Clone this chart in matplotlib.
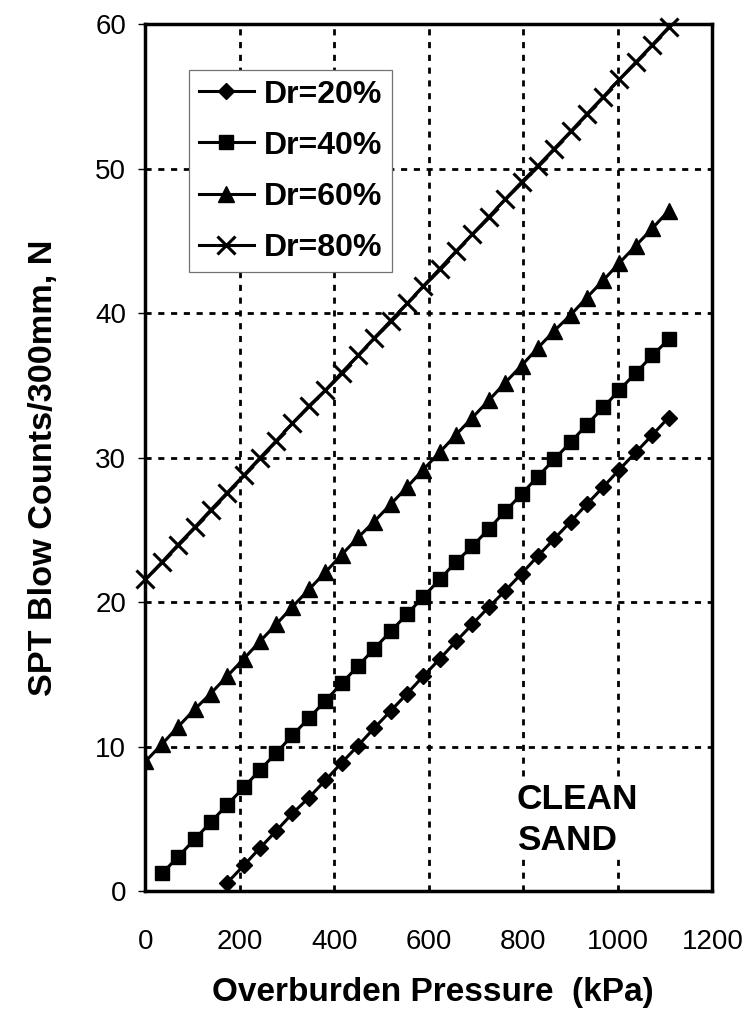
import matplotlib
matplotlib.use("Agg")
import matplotlib.pyplot as plt
from matplotlib import font_manager

plt.rcParams['font.family'] = ['Liberation Sans', 'DejaVu Sans']

# overburden pressure (kPa) at each computed point
pressure = [0, 35, 69, 104, 138, 173, 208, 242, 277, 311, 346, 381, 415, 450, 484, 519,
            554, 588, 623, 657, 692, 727, 761, 796, 830, 865, 900, 934, 969, 1003, 1038,
            1073, 1107]

# SPT N for each relative density
n_dr80 = [21.6, 22.8, 24.0, 25.2, 26.4, 27.6, 28.8, 30.0, 31.2, 32.4, 33.6, 34.7, 35.9,
          37.1, 38.3, 39.5, 40.7, 41.9, 43.1, 44.3, 45.5, 46.7, 47.9, 49.1, 50.2, 51.4,
          52.6, 53.8, 55.0, 56.2, 57.4, 58.6, 59.8]
n_dr60 = [9.0, 10.2, 11.4, 12.6, 13.7, 14.9, 16.1, 17.3, 18.5, 19.7, 20.9, 22.1, 23.3,
          24.5, 25.6, 26.8, 28.0, 29.2, 30.4, 31.6, 32.8, 34.0, 35.2, 36.4, 37.6, 38.8,
          39.9, 41.1, 42.3, 43.5, 44.7, 45.9, 47.1]
n_dr40 = [1.25, 2.4, 3.6, 4.8, 6.0, 7.2, 8.4, 9.6, 10.8, 12.0, 13.2, 14.4, 15.6, 16.8,
          18.0, 19.2, 20.4, 21.6, 22.8, 23.9, 25.1, 26.3, 27.5, 28.7, 29.9, 31.1, 32.3,
          33.5, 34.7, 35.9, 37.1, 38.2]
n_dr20 = [0.6, 1.8, 3.0, 4.2, 5.4, 6.5, 7.7, 8.9, 10.1, 11.3, 12.5, 13.7, 14.9, 16.1,
          17.3, 18.5, 19.7, 20.8, 22.0, 23.2, 24.4, 25.6, 26.8, 28.0, 29.2, 30.4, 31.6,
          32.8]

xticks = [0, 200, 400, 600, 800, 1000, 1200]
yticks = [0, 10, 20, 30, 40, 50, 60]

fig = plt.figure(figsize=(7.51, 10.33), dpi=100)
ax = fig.add_axes([0.1937, 0.137, 0.7550, 0.8393])

lw = 2.2
ax.plot(pressure[5:], n_dr20, color='black', lw=lw, marker='D', ms=8, label='Dr=20%')
ax.plot(pressure[1:], n_dr40, color='black', lw=lw, marker='s', ms=10, label='Dr=40%')
ax.plot(pressure, n_dr60, color='black', lw=lw, marker='^', ms=11.5, label='Dr=60%')
ax.plot(pressure, n_dr80, color='black', lw=lw, marker='x', ms=13, mew=2.2, label='Dr=80%',
        clip_on=False)

ax.set_xlim(0, 1200)
ax.set_ylim(0, 60)
ax.set_xticks(xticks)
ax.set_yticks(yticks)
ax.tick_params(axis='x', length=0, pad=27, labelsize=20)
ax.tick_params(axis='y', length=5, width=1, direction='out', pad=9, labelsize=20)

# dotted grid
ax.grid(True, color='black', lw=2, linestyle=(0, (2.2, 2.4)))
for sp in ax.spines.values():
    sp.set_linewidth(2.5)

fig.text(433 / 751, 1 - 992 / 1033, 'Overburden Pressure  (kPa)', fontsize=24,
         fontweight='bold', ha='center', va='center')

# y label uses a narrow face when one is installed
names = {f.name for f in font_manager.fontManager.ttflist}
if 'Liberation Sans Narrow' in names:
    fig.text(44 / 751, 1 - 468 / 1033, 'SPT Blow Counts/300mm, N', fontsize=30,
             fontweight='bold', family='Liberation Sans Narrow', rotation=90,
             ha='center', va='center')
else:
    fig.text(44 / 751, 1 - 468 / 1033, 'SPT Blow Counts/300mm, N', fontsize=24.7,
             fontweight='bold', rotation=90, ha='center', va='center')

box = dict(fc='white', ec='none', pad=2)
ax.text(786, 5.7, 'CLEAN', fontsize=25.4, fontweight='bold', ha='left', va='baseline', bbox=box)
ax.text(786, 2.9, 'SAND', fontsize=25.4, fontweight='bold', ha='left', va='baseline', bbox=box)

leg = ax.legend(loc='upper left', bbox_to_anchor=(0.0767, 0.9475),
                prop={'weight': 'bold', 'size': 23},
                handlelength=1.75, handletextpad=0.3, labelspacing=0.66, borderpad=0.3,
                fancybox=False, framealpha=1, edgecolor='0.45', borderaxespad=0)
leg.get_frame().set_linewidth(0.9)

fig.savefig('out.png', dpi=100)
